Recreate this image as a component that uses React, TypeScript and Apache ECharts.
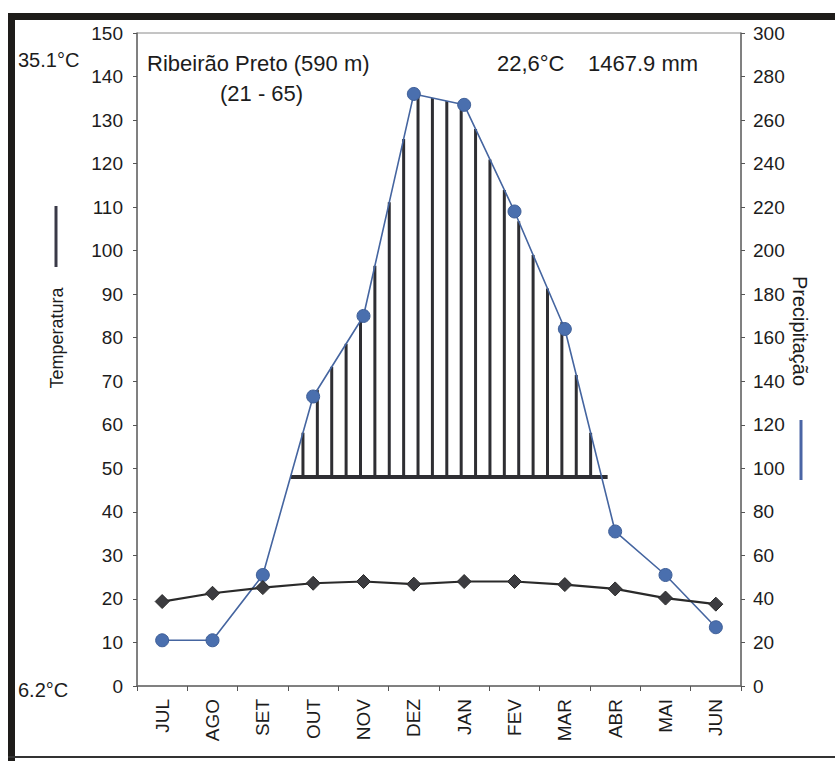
import React, { useEffect, useRef } from 'react';
import * as echarts from 'echarts';

const months = ['JUL', 'AGO', 'SET', 'OUT', 'NOV', 'DEZ', 'JAN', 'FEV', 'MAR', 'ABR', 'MAI', 'JUN'];
const temperature = [19.4, 21.3, 22.6, 23.6, 24.0, 23.4, 24.0, 24.0, 23.3, 22.3, 20.2, 18.8];
const precipitation = [21, 21, 51, 133, 170, 272, 267, 218, 164, 71, 51, 27];
const HATCH_BASE = 96; // mm, base line of the humid-period hatching
const TEMP_MAX = 150;
const PREC_MAX = 300;

const FONT = '"Liberation Sans", Arial, sans-serif';
const INK = '#1c1c1c';

export default function App() {
  const ref = useRef<HTMLDivElement>(null);

  useEffect(() => {
    if (!ref.current) return;
    const chart = echarts.init(ref.current, undefined, { renderer: 'svg' });

    const renderHatch = (params: any, api: any) => {
      const pts = precipitation.map((v, i) => api.coord([i, v]));
      const baseY = api.coord([0, HATCH_BASE])[1];
      const p = precipitation;
      let xs = pts[0][0];
      let xe = pts[pts.length - 1][0];
      for (let i = 0; i < p.length - 1; i++) {
        if (p[i] < HATCH_BASE && p[i + 1] >= HATCH_BASE) {
          xs = pts[i][0] + ((HATCH_BASE - p[i]) / (p[i + 1] - p[i])) * (pts[i + 1][0] - pts[i][0]);
          break;
        }
      }
      for (let i = p.length - 2; i >= 0; i--) {
        if (p[i] >= HATCH_BASE && p[i + 1] < HATCH_BASE) {
          xe = pts[i][0] + ((p[i] - HATCH_BASE) / (p[i] - p[i + 1])) * (pts[i + 1][0] - pts[i][0]);
          break;
        }
      }
      const yAt = (x: number) => {
        for (let i = 0; i < pts.length - 1; i++) {
          if (x >= pts[i][0] && x <= pts[i + 1][0]) {
            const t = (x - pts[i][0]) / (pts[i + 1][0] - pts[i][0]);
            return pts[i][1] + t * (pts[i + 1][1] - pts[i][1]);
          }
        }
        return baseY;
      };
      const children: any[] = [];
      const first = xs + 12.5;
      const last = xe - 11;
      const count = Math.max(2, Math.round((last - first) / 14.3) + 1);
      const step = (last - first) / (count - 1);
      for (let k = 0; k < count; k++) {
        const x = first + k * step;
        children.push({
          type: 'line',
          shape: { x1: x, y1: baseY, x2: x, y2: yAt(x) },
          style: { stroke: '#2e2e33', lineWidth: 3 },
        });
      }
      children.push({
        type: 'line',
        shape: { x1: xs, y1: baseY, x2: xe + 6, y2: baseY },
        style: { stroke: '#2e2e33', lineWidth: 4 },
      });
      return { type: 'group', children };
    };

    const txt = (x: number, y: number, text: string, fontSize: number, extra: any = {}) => ({
      type: 'text',
      x,
      y,
      ...extra,
      style: { text, fontSize, fill: INK, fontFamily: FONT, textVerticalAlign: 'middle', textAlign: 'left', ...(extra.style || {}) },
    });

    const option: any = {
      animation: false,
      backgroundColor: '#ffffff',
      textStyle: { fontFamily: FONT },
      grid: {
        left: 137,
        right: 94,
        top: 33,
        bottom: 75,
        show: true,
        borderColor: '#8a8a8a',
        borderWidth: 1,
        backgroundColor: 'transparent',
      },
      xAxis: {
        type: 'category',
        data: months,
        boundaryGap: true,
        axisLine: { lineStyle: { color: '#6a6a6a', width: 1.5 } },
        axisTick: { show: true, length: 5, lineStyle: { color: '#555' } },
        axisLabel: { rotate: 90, fontSize: 19, color: INK, margin: 13, fontFamily: FONT },
        splitLine: { show: false },
      },
      yAxis: [
        {
          type: 'value',
          min: 0,
          max: TEMP_MAX,
          interval: 10,
          position: 'left',
          axisLine: { show: true, lineStyle: { color: '#6a6a6a', width: 1.5 } },
          axisTick: { show: true, length: 4, lineStyle: { color: '#555' } },
          axisLabel: { fontSize: 19, color: INK, margin: 14, fontFamily: FONT },
          splitLine: { show: false },
        },
        {
          type: 'value',
          min: 0,
          max: PREC_MAX,
          interval: 20,
          position: 'right',
          axisLine: { show: true, lineStyle: { color: '#6a6a6a', width: 1.5 } },
          axisTick: { show: true, length: 4, lineStyle: { color: '#555' } },
          axisLabel: { fontSize: 19, color: INK, margin: 12, fontFamily: FONT },
          splitLine: { show: false },
        },
      ],
      series: [
        {
          type: 'custom',
          name: 'hatch',
          yAxisIndex: 1,
          data: [[0, 0]],
          renderItem: renderHatch,
          z: 1,
          silent: true,
        },
        {
          type: 'line',
          name: 'Precipitação',
          yAxisIndex: 1,
          data: precipitation,
          symbol: 'circle',
          symbolSize: 13,
          itemStyle: { color: '#4a6fae', borderColor: '#3f5f98', borderWidth: 1 },
          lineStyle: { color: '#4565a0', width: 1.6 },
          z: 3,
        },
        {
          type: 'line',
          name: 'Temperatura',
          yAxisIndex: 0,
          data: temperature,
          symbol: 'diamond',
          symbolSize: 14,
          itemStyle: { color: '#3c3c40', borderColor: '#2a2a2a', borderWidth: 1 },
          lineStyle: { color: '#2a2a2a', width: 2.2 },
          z: 4,
        },
      ],
      graphic: [
        { type: 'rect', shape: { x: 8, y: 13, width: 827, height: 7 }, style: { fill: '#1e1c1a' }, silent: true },
        { type: 'rect', shape: { x: 8, y: 13, width: 7, height: 748 }, style: { fill: '#1e1c1a' }, silent: true },
        { type: 'rect', shape: { x: 8, y: 756, width: 827, height: 2 }, style: { fill: '#333' }, silent: true },
        txt(18, 60, '35.1°C', 20),
        txt(18, 690, '6.2°C', 20),
        txt(147, 63, 'Ribeirão Preto (590 m)', 22),
        txt(220, 93, '(21 - 65)', 22),
        txt(497, 63, '22,6°C', 22),
        txt(588, 63, '1467.9 mm', 22),
        {
          type: 'line', shape: { x1: 56, y1: 206, x2: 56, y2: 267 },
          style: { stroke: '#3a3a48', lineWidth: 3 },
        },
        txt(57, 338, 'Temperatura', 18, { rotation: Math.PI / 2, style: { textAlign: 'center' } }),
        txt(800, 331, 'Precipitação', 20, { rotation: -Math.PI / 2, style: { textAlign: 'center' } }),
        {
          type: 'line', shape: { x1: 801, y1: 420, x2: 801, y2: 480 },
          style: { stroke: '#4a65a5', lineWidth: 3 },
        },
      ],
    };

    chart.setOption(option);
    return () => chart.dispose();
  }, []);

  return (
    <div
      ref={ref}
      style={{ position: 'absolute', left: 0, top: 0, width: 835, height: 761 }}
    />
  );
}
